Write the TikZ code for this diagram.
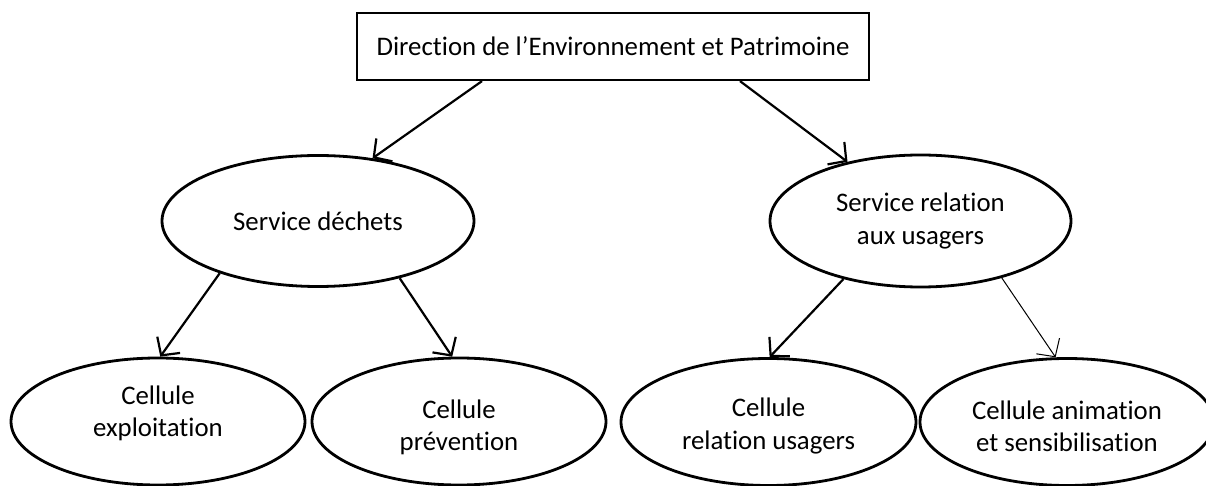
\documentclass[tikz,border=0pt]{standalone}
\usepackage{fontspec}
\setmainfont{Carlito}[Ligatures=NoCommon]
\usetikzlibrary{shapes.geometric,arrows.meta,calc}
\begin{document}
\begin{tikzpicture}[x=0.5pt,y=-0.5pt,
  every node/.style={font=\fontsize{13.4pt}{16.2pt}\selectfont},
  boxnode/.style={draw, line width=1.1pt, minimum width=256pt, minimum height=33.5pt, inner sep=0pt},
  ellnode/.style={draw, ellipse, line width=1.4pt, inner sep=0pt, align=center},
  conn/.style={line width=1.1pt, -{Straight Barb[length=6.5pt,width=14pt]}},
  thinconn/.style={line width=0.5pt, -{Straight Barb[length=6.5pt,width=14pt]}}]
\useasboundingbox (0,0) rectangle (1206,486);
\clip (0,0) rectangle (1206,486);
\fill[white] (0,0) rectangle (1206,486);
\node[boxnode] (dir) at (613,46.5) {Direction de l’Environnement et Patrimoine};
\node[ellnode, minimum width=156pt, minimum height=65.5pt] (sd) at (318,221) {Service déchets};
\node[ellnode, minimum width=150.5pt, minimum height=66pt] (sr) at (920.5,221) {Service relation\\aux usagers};
\node[ellnode, minimum width=147pt, minimum height=63.5pt,
  label={[align=center,yshift=4pt]center:Cellule\\exploitation}] (ce) at (158,421.5) {};
\node[ellnode, minimum width=147pt, minimum height=63.5pt,
  label={[align=center,yshift=-3pt]center:Cellule\\prévention}] (cp) at (459,421.5) {};
\node[ellnode, minimum width=147.5pt, minimum height=63.5pt,
  label={[align=center,yshift=-2pt]center:Cellule\\relation usagers}] (cr) at (768.5,422) {};
\node[ellnode, minimum width=147pt, minimum height=63.5pt,
  label={[align=center,yshift=-2pt]center:Cellule animation\\et sensibilisation}] (ca) at (1067,422) {};
\draw[conn] ($(dir.south)+(-131,0)$) -- (sd.49);
\draw[conn] ($(dir.south)+(127,0)$) -- (sr.141);
\draw[conn] (sd.208) -- (ce.88);
\draw[conn] (sd.325) -- (cp.96);
\draw[conn] (sr.217) -- (cr.89);
\draw[thinconn] (sr.325) -- (ca.100);
\end{tikzpicture}
\end{document}
